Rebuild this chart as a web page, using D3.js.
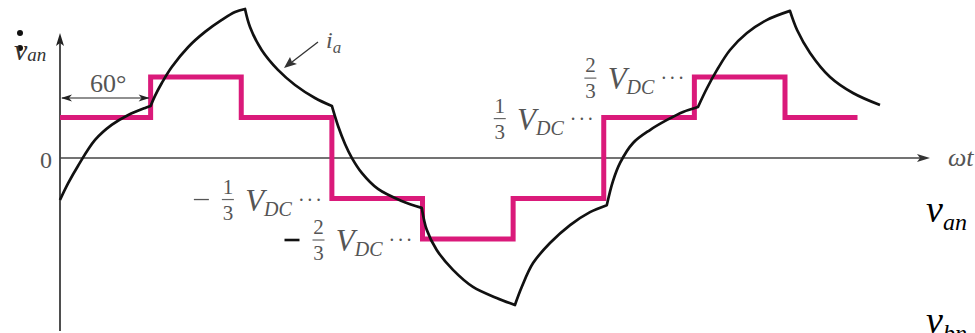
<!DOCTYPE html>
<html>
<head>
<meta charset="utf-8">
<script src="https://cdn.jsdelivr.net/npm/d3@7"></script>
<style>
  html, body { margin: 0; padding: 0; background: #fff; overflow: hidden; }
  text { font-family: "Liberation Serif", "Times New Roman", serif; }
</style>
</head>
<body>
<svg id="chart" width="975" height="333"></svg>
<script>
// Six-step phase voltage v_an (in units of V_DC) and the phase current i_a it drives.

// Step waveform: level held from each angle until the next one (degrees).
const stepAngles = [0, 60, 120, 180, 240, 300, 360, 420, 480, 528];
const stepLevels = [1/3, 2/3, 1/3, -1/3, -2/3, -1/3, 1/3, 2/3, 1/3, 1/3];

// Phase current samples (same per-unit scale), angle in degrees.
const currentAngles = [
  0, 5.5, 11.9, 23.2, 34.2, 45.2, 56.3, 60,
  62.9, 67.4, 74, 84.9, 96, 107.1, 115.9, 122.5,
  125.8, 133.5, 144.3, 155.6, 168.8, 180,
  184.1, 188.7, 193.3, 199.8, 210.5, 226.2, 239.5,
  242.8, 249.4, 260.2, 273.4, 289.1, 301.2,
  305.7, 313.2, 324.4, 337.7, 350.9, 362,
  366.1, 370.8, 379.4, 390.6, 401.9, 412.5, 422.4,
  428.4, 435, 443.6, 454.8, 468.1, 483.3,
  488, 496.6, 509.8, 525, 542.9
];
const currentValues = [
  -0.345, -0.205, -0.065, 0.149, 0.273, 0.355, 0.413, 0.429,
  0.512, 0.618, 0.750, 0.915, 1.039, 1.138, 1.203, 1.228,
  1.080, 0.890, 0.726, 0.602, 0.495, 0.429,
  0.264, 0.116, 0, -0.122, -0.254, -0.353, -0.410,
  -0.591, -0.757, -0.921, -1.061, -1.152, -1.210,
  -1.062, -0.865, -0.700, -0.552, -0.445, -0.388,
  -0.190, -0.040, 0.124, 0.231, 0.314, 0.380, 0.421,
  0.577, 0.726, 0.890, 1.030, 1.138, 1.212,
  1.055, 0.866, 0.668, 0.536, 0.437
];
// Angles where the current's slope jumps (switching instants).
const currentBreaks = [60, 122.5, 180, 239.5, 301.2, 362, 422.4, 483.3];

// Level annotations: value, switching angle they point to, numerator.
const labelValues = [-1/3, -2/3, 1/3, 2/3];
const labelAngles = [180, 240, 360, 420];
const labelNums   = ["1", "2", "1", "2"];

const zeroTick = [0];
const sectorAngle = 60;

const svg = d3.select("#chart");
const x = d3.scaleLinear().domain([0, 576]).range([60, 930]);
const y = d3.scaleLinear().domain([-1.416, 1.03]).range([330, 33]);

const grey = "#555";
const magenta = "#da1a7a";

// ---- axes ----
svg.append("line")
  .attr("x1", x(0)).attr("x2", x(0))
  .attr("y1", y(-1.416) + 1).attr("y2", y(1.03) + 6)
  .attr("stroke", "#222").attr("stroke-width", 1.6);
svg.append("path")
  .attr("d", `M${x(0)},${y(1.03)} L${x(0) - 4},${y(1.03) + 13} L${x(0)},${y(1.03) + 10} L${x(0) + 4},${y(1.03) + 13} Z`)
  .attr("fill", "#222");

svg.append("line")
  .attr("x1", x(0)).attr("x2", x(576) - 6)
  .attr("y1", y(0)).attr("y2", y(0))
  .attr("stroke", "#444").attr("stroke-width", 1.5);
svg.append("path")
  .attr("d", `M${x(576)},${y(0)} L${x(576) - 13},${y(0) - 4} L${x(576) - 10},${y(0)} L${x(576) - 13},${y(0) + 4} Z`)
  .attr("fill", "#333");

const yAxis = d3.axisLeft(y).tickValues(zeroTick).tickSize(0).tickPadding(8).tickFormat(d3.format("d"));
const gy = svg.append("g").attr("transform", `translate(${x(0)},0)`).call(yAxis);
gy.select(".domain").remove();
gy.selectAll("text")
  .attr("dy", "0.38em")
  .style("font-family", "'Liberation Serif', serif")
  .style("font-size", "24px")
  .attr("fill", grey);

// ---- step voltage ----
const stepLine = d3.line()
  .x((d, i) => x(stepAngles[i]))
  .y((d, i) => y(stepLevels[i]))
  .curve(d3.curveStepAfter);
svg.append("path")
  .attr("d", stepLine(stepAngles))
  .attr("fill", "none")
  .attr("stroke", magenta)
  .attr("stroke-width", 5)
  .attr("stroke-linejoin", "miter");

// ---- phase current, smooth between switching instants ----
const pts = currentAngles.map((a, i) => [a, currentValues[i]]);
const segLine = d3.line().x(d => x(d[0])).y(d => y(d[1])).curve(d3.curveCatmullRom.alpha(0.5));
const edges = [0, ...currentBreaks, Infinity];
let dPath = "";
for (let k = 0; k < edges.length - 1; k++) {
  const seg = pts.filter(p => p[0] >= edges[k] && p[0] <= edges[k + 1]);
  if (seg.length < 2) continue;
  let s = segLine(seg);
  if (k > 0) s = s.replace(/^M[^A-Za-z]*/, "");
  dPath += s;
}
svg.append("path")
  .attr("d", dPath)
  .attr("fill", "none")
  .attr("stroke", "#111")
  .attr("stroke-width", 2.7)
  .attr("stroke-linejoin", "round");

// ---- 60° sector dimension ----
const dimY = 98;
svg.append("line")
  .attr("x1", x(0) + 2).attr("x2", x(sectorAngle) - 2)
  .attr("y1", dimY).attr("y2", dimY)
  .attr("stroke", "#222").attr("stroke-width", 1.2);
function arrowHead(tipX, tipY, dir) {
  svg.append("path")
    .attr("d", `M${tipX},${tipY} L${tipX - dir * 11},${tipY - 3.5} L${tipX - dir * 8},${tipY} L${tipX - dir * 11},${tipY + 3.5} Z`)
    .attr("fill", "#222");
}
arrowHead(x(0) + 1, dimY, -1);
arrowHead(x(sectorAngle) - 1, dimY, 1);
svg.append("text")
  .attr("x", (x(0) + x(sectorAngle)) / 2 + 3).attr("y", 92)
  .attr("text-anchor", "middle")
  .style("font-size", "26px").attr("fill", grey)
  .text(sectorAngle + "°");

// ---- level annotations ----
labelValues.forEach((v, i) => {
  const ex = x(labelAngles[i]) - 8;
  const ly = y(v);
  const g = svg.append("g").attr("fill", grey);
  g.append("text").attr("x", ex).attr("y", ly + 8).attr("text-anchor", "end")
    .style("font-size", "20px").style("letter-spacing", "2px").text("···");
  const vdc = g.append("text").attr("x", ex - 32).attr("y", ly + 12).attr("text-anchor", "end")
    .style("font-style", "italic");
  vdc.append("tspan").style("font-size", "31px").text("V");
  vdc.append("tspan").attr("dy", 5).style("font-size", "20px").text("DC");
  const fx = ex - 96;
  g.append("text").attr("x", fx).attr("y", ly - 5).attr("text-anchor", "middle")
    .style("font-size", "21px").text(labelNums[i]);
  g.append("line").attr("x1", fx - 6).attr("x2", fx + 6).attr("y1", ly + 1).attr("y2", ly + 1)
    .attr("stroke", "#666").attr("stroke-width", 1.2);
  g.append("text").attr("x", fx).attr("y", ly + 21).attr("text-anchor", "middle")
    .style("font-size", "21px").text("3");
  if (v < 0) {
    g.append("line").attr("x1", ex - 130).attr("x2", ex - 115).attr("y1", ly + 1).attr("y2", ly + 1)
      .attr("stroke", i === 1 ? "#111" : grey).attr("stroke-width", i === 1 ? 2.6 : 1.3);
  }
});

// ---- current label with pointer ----
svg.append("line")
  .attr("x1", 318).attr("y1", 42).attr("x2", 292).attr("y2", 62)
  .attr("stroke", "#333").attr("stroke-width", 1.3);
svg.append("path")
  .attr("d", "M284,68 L290,57 L292,62 L297,64 Z")
  .attr("fill", "#333");
const ia = svg.append("text").attr("x", 326).attr("y", 48).attr("fill", grey)
  .style("font-style", "italic");
ia.append("tspan").style("font-size", "24px").text("i");
ia.append("tspan").attr("dy", 5).style("font-size", "17px").text("a");

// ---- y-axis name ----
svg.append("circle").attr("cx", 20).attr("cy", 33).attr("r", 3).attr("fill", "#111");
svg.append("circle").attr("cx", 20).attr("cy", 48).attr("r", 3).attr("fill", "#111");
const van = svg.append("text").attr("x", 14).attr("y", 60).attr("fill", "#333")
  .style("font-style", "italic");
van.append("tspan").style("font-size", "30px").text("v");
van.append("tspan").attr("dy", 1).style("font-size", "19px").text("an");

// ---- x-axis name ----
svg.append("text").attr("x", 948).attr("y", 166).attr("fill", grey)
  .style("font-style", "italic").style("font-size", "26px").text("ωt");

// ---- phase voltage names on the right ----
const r1 = svg.append("text").attr("x", 926).attr("y", 222).attr("fill", "#000")
  .style("font-style", "italic");
r1.append("tspan").style("font-size", "38px").text("v");
r1.append("tspan").attr("dy", 8).style("font-size", "24px").text("an");
const r2 = svg.append("text").attr("x", 926).attr("y", 333).attr("fill", "#000")
  .style("font-style", "italic");
r2.append("tspan").style("font-size", "38px").text("v");
r2.append("tspan").attr("dy", 8).style("font-size", "24px").text("bn");
</script>
</body>
</html>
